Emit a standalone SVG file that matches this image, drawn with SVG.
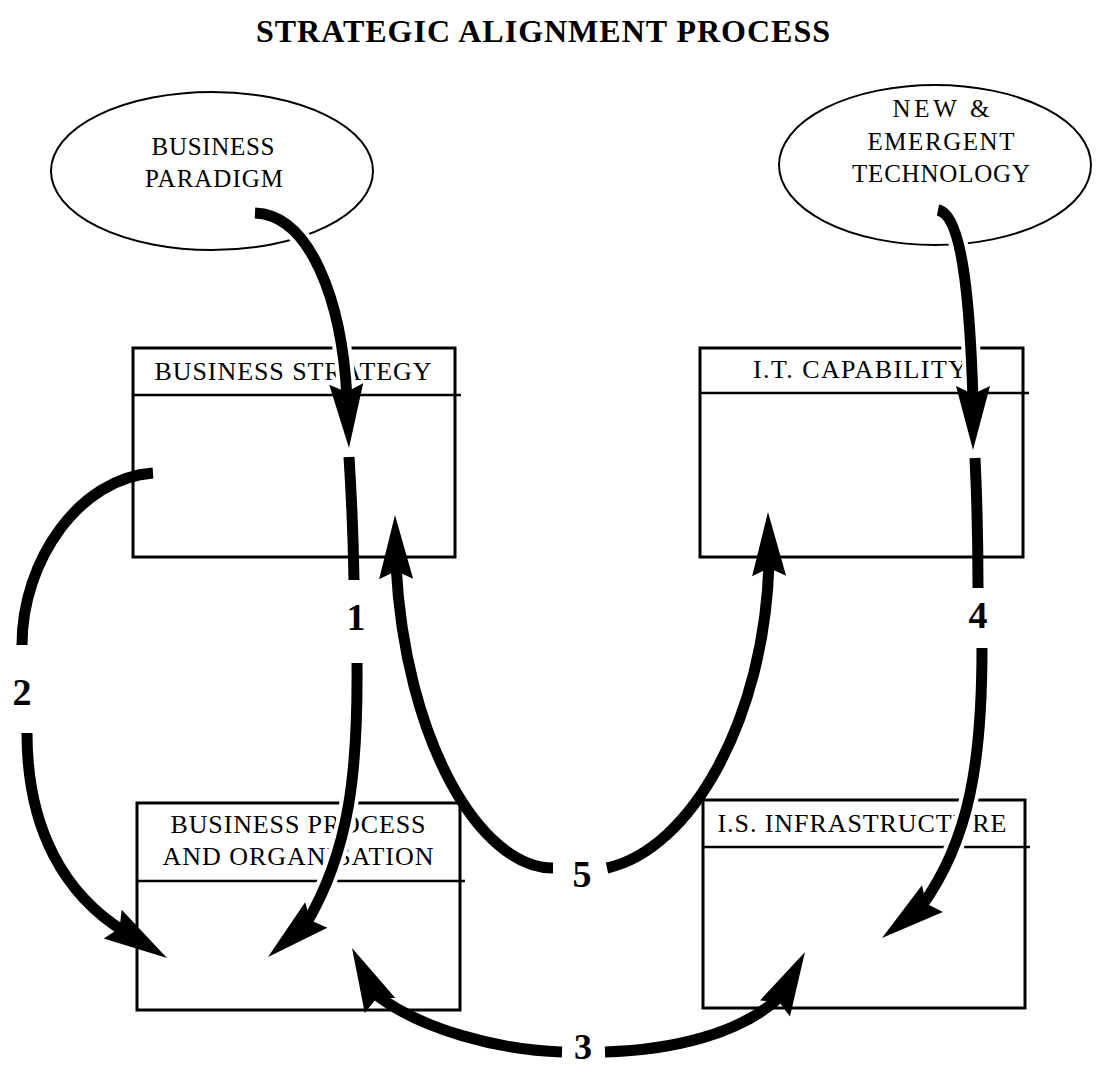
<svg xmlns="http://www.w3.org/2000/svg" xmlns:xlink="http://www.w3.org/1999/xlink" width="1106" height="1068" viewBox="0 0 1106 1068">
  <style>
    .title{font-family:"Liberation Serif","Times New Roman",serif;font-weight:bold;font-size:32px;text-anchor:middle;fill:#000}
    .lbl{font-family:"Liberation Serif","Times New Roman",serif;font-size:26px;text-anchor:middle;fill:#000}
    .olbl{font-family:"Liberation Serif","Times New Roman",serif;font-size:25px;text-anchor:middle;fill:#000}
    .num{font-family:"Liberation Serif","Times New Roman",serif;font-weight:bold;font-size:38px;text-anchor:middle;fill:#000}
    .box{fill:none;stroke:#000;stroke-width:3}
    .hdr{fill:none;stroke:#000;stroke-width:2.5}
    .oval{fill:#fff;stroke:#000;stroke-width:2}
    .shaft{fill:none;stroke:#000;stroke-width:11}
    .casing{fill:none;stroke:#fff;stroke-width:19}
  </style>
  <defs>
    <!-- arrowhead pointing along +x, tip at the origin -->
    <path id="head" d="M0,0 L-64,-17 L-56,0 L-64,17 Z" fill="#000"/>
  </defs>

  <rect width="1106" height="1068" fill="#fff"/>

  <text class="title" x="543" y="42" textLength="574" lengthAdjust="spacing">STRATEGIC  ALIGNMENT  PROCESS</text>

  <g id="business-paradigm">
    <ellipse class="oval" cx="212" cy="171" rx="161" ry="79"/>
    <text class="olbl" x="213" y="155" textLength="123" lengthAdjust="spacing">BUSINESS</text>
    <text class="olbl" x="214" y="187" textLength="138" lengthAdjust="spacing">PARADIGM</text>
  </g>

  <g id="emergent-technology">
    <ellipse class="oval" cx="935" cy="165" rx="156" ry="80"/>
    <text class="olbl" x="941" y="117" textLength="97" lengthAdjust="spacing">NEW  &amp;</text>
    <text class="olbl" x="941" y="150" textLength="147" lengthAdjust="spacing">EMERGENT</text>
    <text class="olbl" x="941" y="182" textLength="178" lengthAdjust="spacing">TECHNOLOGY</text>
  </g>

  <g id="business-strategy">
    <rect class="box" x="133" y="348" width="322" height="209"/>
    <line class="hdr" x1="133" y1="395" x2="461" y2="395"/>
    <text class="lbl" x="293" y="380" textLength="277" lengthAdjust="spacing">BUSINESS  STRATEGY</text>
  </g>

  <g id="it-capability">
    <rect class="box" x="700" y="348" width="323" height="209"/>
    <line class="hdr" x1="700" y1="393" x2="1029" y2="393"/>
    <text class="lbl" x="860" y="378" textLength="214" lengthAdjust="spacing">I.T.  CAPABILITY</text>
  </g>

  <g id="business-process">
    <rect class="box" x="137" y="803" width="323" height="207"/>
    <line class="hdr" x1="137" y1="881" x2="465" y2="881"/>
    <text class="lbl" x="298" y="833" textLength="255" lengthAdjust="spacing">BUSINESS  PROCESS</text>
    <text class="lbl" x="298" y="865" textLength="271" lengthAdjust="spacing">AND  ORGANISATION</text>
  </g>

  <g id="is-infrastructure">
    <rect class="box" x="703" y="800" width="322" height="208"/>
    <line class="hdr" x1="703" y1="847" x2="1030" y2="847"/>
    <text class="lbl" x="862" y="832" textLength="289" lengthAdjust="spacing">I.S.  INFRASTRUCTURE</text>
  </g>

  <g id="connectors">
    <!-- 1: business paradigm -> strategy -> process -->
    <path class="casing" d="M255,213 C310,215 342,300 347,398"/>
    <path class="shaft" d="M255,213 C310,215 342,300 347,398"/>
    <use xlink:href="#head" transform="translate(349,448) rotate(87.5)"/>
    <path class="shaft" d="M349,457 Q353,520 354,580"/>
    <path class="casing" d="M357,663 C358,770 350,850 306,924"/>
    <path class="shaft" d="M357,663 C358,770 350,850 306,924"/>
    <use xlink:href="#head" transform="translate(268,957) rotate(139)"/>
    <text class="num" x="356" y="630">1</text>

    <!-- 2: strategy -> process -->
    <path class="shaft" d="M153,473 C80,478 22,560 22,645"/>
    <path class="shaft" d="M27,733 C27,830 65,895 125,932"/>
    <use xlink:href="#head" transform="translate(167,958) rotate(32)"/>
    <text class="num" x="22" y="705">2</text>

    <!-- 3: process <-> infrastructure -->
    <path class="shaft" d="M562,1052 C500,1050 420,1030 374,993"/>
    <use xlink:href="#head" transform="translate(352,948) rotate(-116)"/>
    <path class="shaft" d="M605,1052 C670,1050 740,1035 781,996"/>
    <use xlink:href="#head" transform="translate(805,952) rotate(-62)"/>
    <text class="num" x="583" y="1059" style="font-size:36px">3</text>

    <!-- 4: technology -> capability -> infrastructure -->
    <path class="casing" d="M938,210 C962,215 970,300 973,400"/>
    <path class="shaft" d="M938,210 C962,215 970,300 973,400"/>
    <use xlink:href="#head" transform="translate(973,450) rotate(90)"/>
    <path class="shaft" d="M975,458 Q978,520 978,588"/>
    <path class="casing" d="M982,648 C982,760 970,840 921,907"/>
    <path class="shaft" d="M982,648 C982,760 970,840 921,907"/>
    <use xlink:href="#head" transform="translate(882,938) rotate(142)"/>
    <text class="num" x="978" y="628">4</text>

    <!-- 5: process -> strategy and capability -->
    <path class="shaft" d="M553,868 C480,868 405,740 396,565"/>
    <use xlink:href="#head" transform="translate(395,515) rotate(-91)"/>
    <path class="shaft" d="M607,868 C690,850 765,720 769,562"/>
    <use xlink:href="#head" transform="translate(768,512) rotate(-91)"/>
    <text class="num" x="582" y="887">5</text>
  </g>
</svg>
